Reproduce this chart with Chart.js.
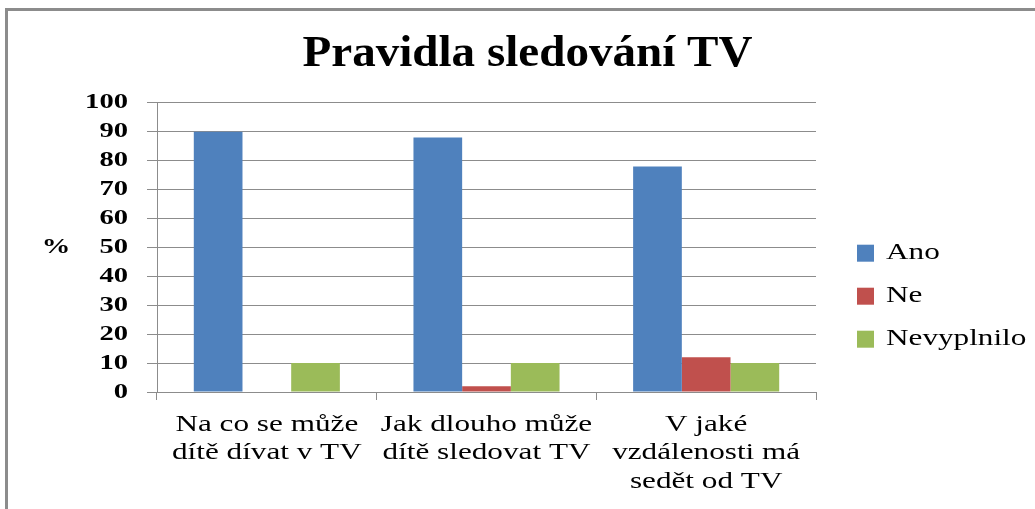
<!DOCTYPE html>
<html>
<head>
<meta charset="utf-8">
<script src="https://cdn.jsdelivr.net/npm/chart.js@4"></script>
<style>
  html, body { margin: 0; padding: 0; background: #fff; }
  #wrap { position: relative; width: 1035px; height: 509px; overflow: hidden; }
  #frame { position: absolute; left: 5px; top: 8px; right: -10px; bottom: -10px;
           border-top: 3px solid #8c8c8c; border-left: 3px solid #8c8c8c; }
  canvas { position: absolute; left: 0; top: 0; }
</style>
</head>
<body>
<div id="wrap">
  <div id="frame"></div>
  <canvas id="tvChart" width="1035" height="509"></canvas>
</div>
<script>
const categories = [
    ['Na co se může', 'dítě dívat v TV'],
    ['Jak dlouho může', 'dítě sledovat TV'],
    ['V jaké', 'vzdálenosti má', 'sedět od TV']
];
const ano = [90, 88, 78];
const ne = [0, 2, 12];
const nevyplnilo = [10, 10, 10];
const yTicks = { min: 0, max: 100, step: 10 };

const serif = '"Liberation Serif", "Times New Roman", serif';
const gridGray = '#8c8c8c';

const ctx = document.getElementById('tvChart').getContext('2d');

// the source image has its text set wide, so stretch glyphs sideways
// (title a little, everything else more)
function stretchFor(font) {
    const size = parseFloat((font.match(/([\d.]+)px/) || [0, 12])[1]);
    return size >= 40 ? 1.07 : 1.3;
}
const rawFill = ctx.fillText.bind(ctx);
const rawMeasure = ctx.measureText.bind(ctx);
ctx.measureText = function (text) {
    const m = rawMeasure(text);
    return { width: m.width * stretchFor(ctx.font),
             actualBoundingBoxAscent: m.actualBoundingBoxAscent,
             actualBoundingBoxDescent: m.actualBoundingBoxDescent };
};
ctx.fillText = function (text, x, y) {
    ctx.save();
    ctx.translate(x, y);
    ctx.scale(stretchFor(ctx.font), 1);
    rawFill(text, 0, 0);
    ctx.restore();
};

// "%" beside the value axis, upright like in the original
const yTitle = {
    id: 'yTitle',
    afterDraw(chart) {
        const area = chart.chartArea;
        ctx.save();
        ctx.font = 'bold 22px ' + serif;
        ctx.fillStyle = '#000';
        ctx.textAlign = 'center';
        ctx.textBaseline = 'middle';
        ctx.fillText('%', 56, (area.top + area.bottom) / 2);
        ctx.restore();
    }
};

window.tvChart = new Chart(ctx, {
    type: 'bar',
    data: {
        labels: categories,
        datasets: [
            { label: 'Ano', data: ano, backgroundColor: '#4F81BD' },
            { label: 'Ne', data: ne, backgroundColor: '#C0504D' },
            { label: 'Nevyplnilo', data: nevyplnilo, backgroundColor: '#9BBB59' }
        ]
    },
    options: {
        responsive: false,
        animation: false,
        datasets: { bar: { barPercentage: 1, categoryPercentage: 0.665 } },
        layout: { padding: { left: 20, right: 0, top: 0, bottom: 20 } },
        plugins: {
            title: {
                display: true,
                text: 'Pravidla sledování TV',
                color: '#000',
                font: { family: serif, size: 44, weight: 'bold', lineHeight: 1.2 },
                padding: { top: 28, bottom: 22 }
            },
            legend: {
                position: 'right',
                maxWidth: 197,
                // empty title only pushes the entries down to where they sit in the original
                title: { display: true, text: '', padding: { top: 89, bottom: 0 } },
                labels: {
                    color: '#000',
                    font: { family: serif, size: 24 },
                    boxWidth: 17,
                    boxHeight: 17,
                    padding: 19
                }
            },
            tooltip: { enabled: false }
        },
        scales: {
            x: {
                grid: { drawOnChartArea: false, tickLength: 8, color: gridGray },
                border: { color: gridGray },
                ticks: {
                    color: '#000',
                    font: { family: serif, size: 24, lineHeight: 1.2 },
                    padding: 10,
                    maxRotation: 0,
                    autoSkip: false
                },
                afterFit: s => { s.height = 97; }
            },
            y: {
                min: yTicks.min,
                max: yTicks.max,
                grid: { color: gridGray, tickLength: 10 },
                border: { color: gridGray },
                ticks: {
                    stepSize: yTicks.step,
                    autoSkip: false,
                    color: '#000',
                    font: { family: serif, size: 22, weight: 'bold' },
                    padding: 19
                },
                afterFit: s => { s.width = 137; }
            },
            gap: {
                type: 'linear',
                position: 'right',
                grid: { display: false },
                border: { display: false },
                ticks: { display: false },
                afterFit: s => { s.width = 22; }
            }
        }
    },
    plugins: [yTitle]
});
</script>
</body>
</html>
